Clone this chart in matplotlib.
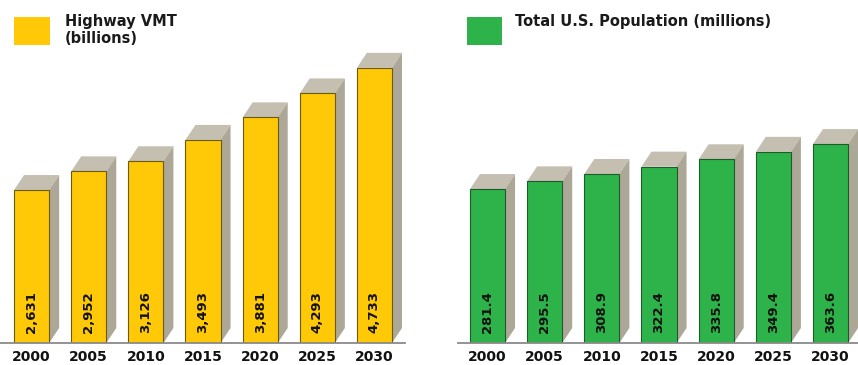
import matplotlib
matplotlib.use("Agg")
import matplotlib.pyplot as plt
from matplotlib.patches import Polygon, Rectangle

years = ["2000", "2005", "2010", "2015", "2020", "2025", "2030"]
vmt = [2631, 2952, 3126, 3493, 3881, 4293, 4733]
vmt_labels = ["2,631", "2,952", "3,126", "3,493", "3,881", "4,293", "4,733"]
pop = [281.4, 295.5, 308.9, 322.4, 335.8, 349.4, 363.6]
pop_labels = ["281.4", "295.5", "308.9", "322.4", "335.8", "349.4", "363.6"]

W, H = 858, 365
fig = plt.figure(figsize=(W / 100, H / 100), dpi=100)
plt.rcParams['font.family'] = 'DejaVu Sans'

shadow_top = '#c4bfb1'
shadow_side = '#aca797'
bw = 0.614
dx_px, dy_px = 10, 15


def px_ax(x0, x1):
    # axes rect from pixel span, baseline at y=343
    return fig.add_axes([x0 / W, 22 / H, (x1 - x0) / W, 343 / H])


def draw_panel(ax, vals, labels, color, edge, xlim, ylim):
    ax.set_xlim(*xlim)
    ax.set_ylim(*ylim)
    wpx = ax.get_position().width * W
    hpx = ax.get_position().height * H
    dx = dx_px * (xlim[1] - xlim[0]) / wpx
    dy = dy_px * (ylim[1] - ylim[0]) / hpx
    x = list(range(len(vals)))
    for xi, v in zip(x, vals):
        l, r = xi - bw / 2, xi + bw / 2
        top = Polygon([(l, v), (r, v), (r + dx, v + dy), (l + dx, v + dy)],
                      closed=True, fc=shadow_top, ec='none', zorder=1, clip_on=False)
        side = Polygon([(r, 0), (r, v), (r + dx, v + dy), (r + dx, dy)],
                       closed=True, fc=shadow_side, ec='none', zorder=1, clip_on=False)
        ax.add_patch(top)
        ax.add_patch(side)
    ax.bar(x, vals, width=bw, color=color, edgecolor=edge, linewidth=0.8, zorder=2)
    for xi, t in zip(x, labels):
        ax.text(xi, (ylim[1] - ylim[0]) * 10 / hpx, t, rotation=90, ha='center', va='bottom',
                fontsize=9.5, fontweight='bold', color='#111111', zorder=3)
    for s in ['top', 'left', 'right']:
        ax.spines[s].set_visible(False)
    ax.spines['bottom'].set_color('#8a8a8a')
    ax.spines['bottom'].set_linewidth(1.3)
    ax.spines['bottom'].set_zorder(4)
    ax.set_yticks([])
    ax.set_xticks(x)
    ax.set_xticklabels(years, fontsize=10, fontweight='bold', color='#111111')
    ax.tick_params(axis='x', length=0, pad=5)
    ax.patch.set_alpha(0)


ax1 = px_ax(0, 405)
draw_panel(ax1, vmt, vmt_labels, '#ffc907', '#6b5a10', (-0.553, 6.535), (0, 5900))

ax2 = px_ax(458, 858)
draw_panel(ax2, pop, pop_labels, '#2db34a', '#1f5a2a', (-0.516, 6.481), (0, 627))

# legend squares and titles
fig.patches.append(Rectangle((14 / W, 1 - 45 / H), 36 / W, 28 / H, transform=fig.transFigure,
                             fc='#ffc907', ec='none'))
fig.patches.append(Rectangle((467 / W, 1 - 45 / H), 35 / W, 28 / H, transform=fig.transFigure,
                             fc='#2db34a', ec='none'))
fig.text(65 / W, 1 - 14 / H, "Highway VMT\n(billions)", ha='left', va='top',
         fontsize=10.5, fontweight='bold', color='#1a1a1a', linespacing=1.15)
fig.text(515 / W, 1 - 14 / H, "Total U.S. Population (millions)", ha='left', va='top',
         fontsize=10.5, fontweight='bold', color='#1a1a1a')

fig.savefig("out.png", dpi=100)
